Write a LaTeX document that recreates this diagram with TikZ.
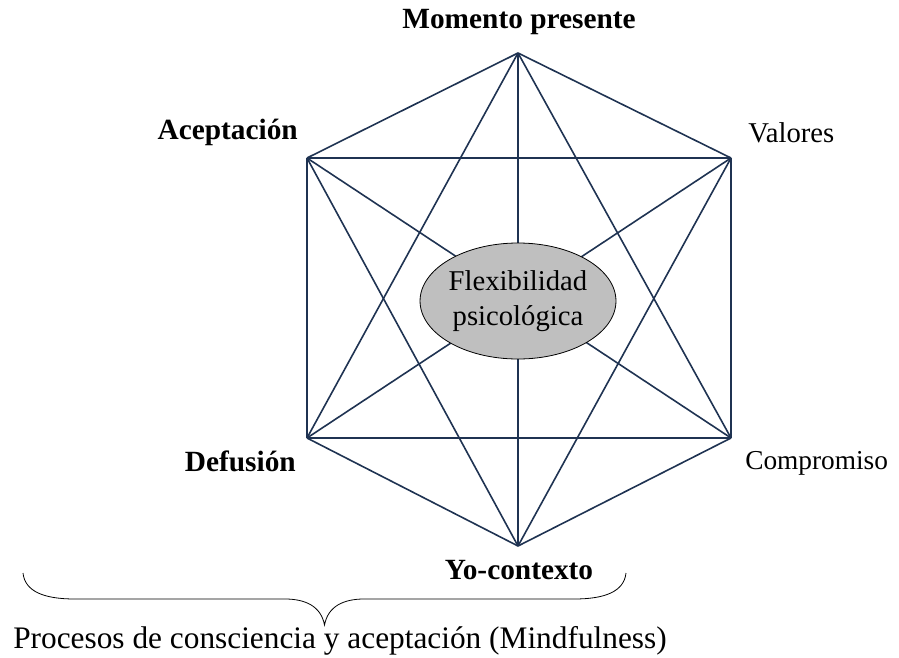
\documentclass[tikz,border=0pt]{standalone}
\usepackage{fontspec}
\setmainfont{Liberation Serif}
\usetikzlibrary{shapes.geometric}
\begin{document}
\begin{tikzpicture}[x=0.75pt,y=-0.75pt,
  edge/.style={draw=lineblue,line width=1.2pt},
  lbl/.style={inner sep=0pt,font=\fontsize{21.5}{26}\selectfont},
  blbl/.style={inner sep=0pt,font=\fontsize{22}{26}\selectfont\bfseries},
  core/.style={ellipse,draw=black,line width=0.6pt,fill=coregray,minimum width=142.5pt,minimum height=87pt,inner sep=0pt,align=center,font=\fontsize{21.5}{26}\selectfont}]
\definecolor{lineblue}{HTML}{1F3352}
\definecolor{coregray}{HTML}{BFBFBF}
\useasboundingbox (0,0) rectangle (899,657);
% hexagon vertices
\coordinate (T)  at (518,53);
\coordinate (UL) at (307,158);
\coordinate (UR) at (731,158);
\coordinate (LL) at (307,438);
\coordinate (LR) at (731,438);
\coordinate (B)  at (518,546);
% every pair of vertices joined
\foreach \a/\b in {T/UL,T/UR,T/LL,T/LR,T/B,UL/UR,UL/LL,UL/LR,UL/B,UR/LL,UR/LR,UR/B,LL/LR,LL/B,LR/B}
  \draw[edge,line join=round] (\a) -- (\b);
% central process
\node[core] (flex) at (518,301) {Flexibilidad\\psicológica};
% vertex labels
\node[blbl] (mom) at (519,22) {Momento presente};
\node[blbl,anchor=east] (acep) at (298,132) {Aceptación};
\node[lbl,anchor=west] (val) at (748,133) {Valores};
\node[blbl,anchor=east] (def) at (296,461) {Defusión};
\node[lbl,anchor=west,font=\fontsize{20.5}{26}\selectfont] (comp) at (745,463) {Compromiso};
\node[blbl] (yo) at (519,570) {Yo-contexto};
% brace under the mindfulness processes
\coordinate (bl) at (23,573);
\coordinate (br) at (626,573);
\coordinate (tip) at (324.5,625);
\draw[line width=0.6pt] (bl) .. controls (25,592) and (45,599) .. (75,599)
  -- (285,599) .. controls (305,599) and (321,606) .. (tip)
  .. controls (328,606) and (344,599) .. (364,599)
  -- (574,599) .. controls (604,599) and (624,592) .. (br);
\node[inner sep=0pt,font=\fontsize{23.5}{26}\selectfont] (mind) at (340,641) {Procesos de consciencia y aceptación (Mindfulness)};
\end{tikzpicture}
\end{document}
